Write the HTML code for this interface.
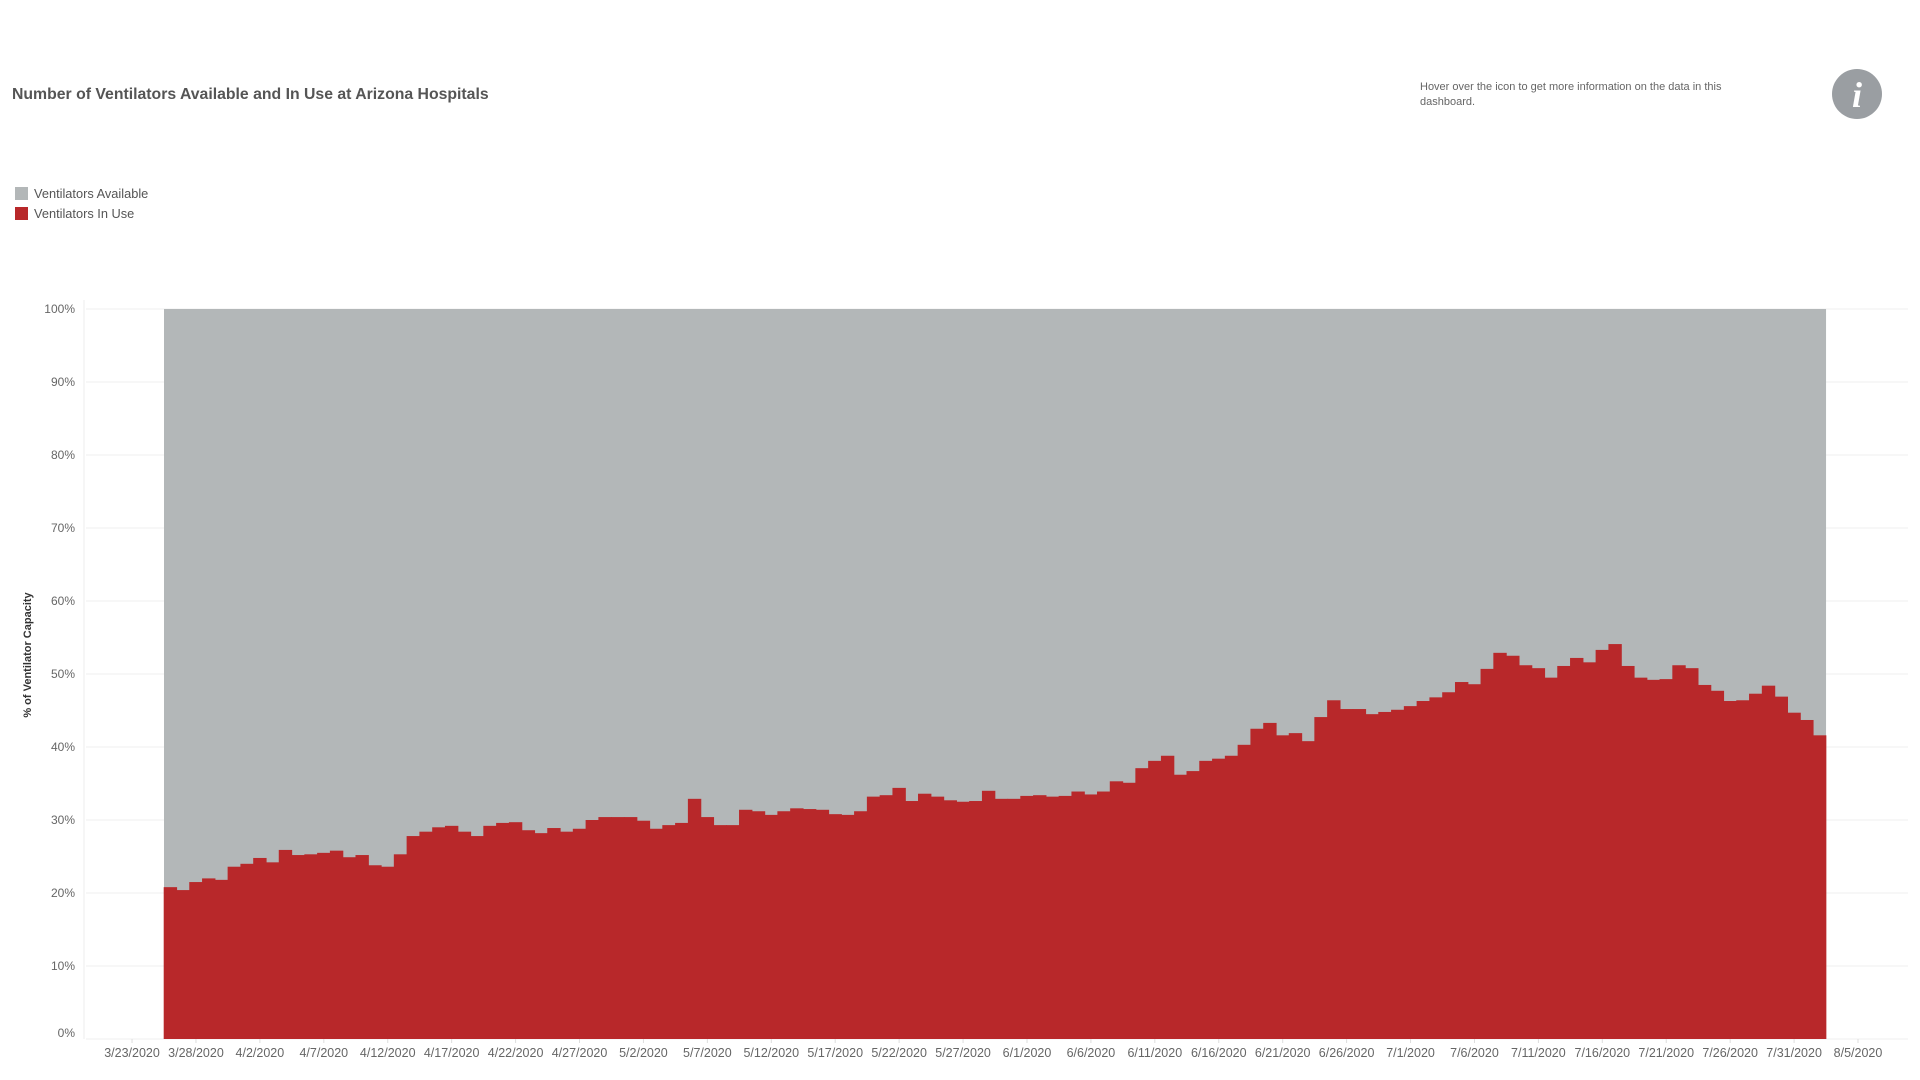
<!DOCTYPE html>
<html><head><meta charset="utf-8"><title>Ventilators</title>
<style>
html,body{margin:0;padding:0;background:#fff;width:1920px;height:1080px;overflow:hidden;font-family:"Liberation Sans",sans-serif;}
svg{display:block}
</style></head>
<body>
<svg id="chart" width="1920" height="1080" viewBox="0 0 1920 1080">
  <text x="12" y="99" font-size="15.8" font-weight="bold" fill="#555">Number of Ventilators Available and In Use at Arizona Hospitals</text>
  <text x="1420" y="90" font-size="11" fill="#666">Hover over the icon to get more information on the data in this</text>
  <text x="1420" y="105" font-size="11" fill="#666">dashboard.</text>
  <g>
    <circle cx="1857" cy="94" r="25" fill="#9a9ea2"/>
    <text x="1857" y="107" font-size="36" font-weight="bold" font-style="italic" font-family="Liberation Serif, serif" fill="#fff" text-anchor="middle">i</text>
  </g>
  <g>
    <rect x="15" y="187" width="13" height="13" fill="#b3b7b8"/>
    <text x="34" y="198" font-size="12.8" fill="#555">Ventilators Available</text>
    <rect x="15" y="207" width="13" height="13" fill="#b8282a"/>
    <text x="34" y="218" font-size="12.8" fill="#555">Ventilators In Use</text>
  </g>
  <line x1="84" y1="300" x2="84" y2="1039" stroke="#eee" stroke-width="1"/>
  <g id="grid"></g>
  <g id="marks"></g>
  <g id="yticks"></g>
  <g id="xticks"></g>
  <text transform="translate(31,655) rotate(-90)" font-size="11" font-weight="bold" fill="#333" text-anchor="middle">% of Ventilator Capacity</text>
</svg>
<script>
const startDate = [2020, 2, 26]; // 3/26/2020 (month index 2)
const inUsePct = [20.8,20.4,21.5,22.0,21.8,23.6,24.0,24.8,24.2,25.9,25.2,25.3,25.5,25.8,24.9,25.2,23.8,23.6,25.3,27.8,28.4,29.0,29.2,28.4,27.8,29.2,29.6,29.7,28.6,28.2,28.9,28.4,28.8,30.0,30.4,
30.4,30.4,29.9,28.8,29.3,29.6,32.9,30.4,29.3,29.3,31.4,31.2,30.7,31.2,31.6,31.5,31.4,30.8,30.7,31.2,33.2,33.4,34.4,32.6,33.6,33.2,32.7,32.5,32.6,34.0,32.9,32.9,33.3,33.4,33.2,
33.3,33.9,33.5,33.9,
35.3,35.1,37.1,38.1,38.8,36.2,36.7,38.1,38.4,38.8,40.3,42.5,43.3,41.6,41.9,40.8,44.1,46.4,45.2,45.2,44.5,44.8,45.1,45.6,46.3,46.8,47.5,48.9,
48.6,50.7,52.9,52.5,51.2,50.8,49.5,51.1,52.2,51.6,53.3,54.1,51.1,49.5,49.2,49.3,51.2,50.8,48.5,47.7,46.3,46.4,47.3,48.4,46.9,44.7,43.7,41.6];
const yTicks = [0,10,20,30,40,50,60,70,80,90,100];
const xTickLabels = ["3/23/2020","3/28/2020","4/2/2020","4/7/2020","4/12/2020","4/17/2020","4/22/2020","4/27/2020","5/2/2020","5/7/2020","5/12/2020","5/17/2020","5/22/2020","5/27/2020","6/1/2020","6/6/2020","6/11/2020","6/16/2020","6/21/2020","6/26/2020","7/1/2020","7/6/2020","7/11/2020","7/16/2020","7/21/2020","7/26/2020","7/31/2020","8/5/2020"];

const NS = "http://www.w3.org/2000/svg";
const X0 = 164, DAY = 12.785, Y0 = 1039, Y100 = 309;
function dayIndex(label){const p=label.split('/');const d=new Date(+p[2],+p[0]-1,+p[1]);const s=new Date(startDate[0],startDate[1],startDate[2]);return Math.round((d-s)/86400000);}
function xPos(i){return X0 + i*DAY;}
function yPos(v){return Y0 - (v/100)*(Y0-Y100);}
function mk(tag, attrs, parent){const e=document.createElementNS(NS,tag);for(const k in attrs)e.setAttribute(k,attrs[k]);parent.appendChild(e);return e;}

const grid=document.getElementById('grid'), yt=document.getElementById('yticks'), xt=document.getElementById('xticks'), marks=document.getElementById('marks');
yTicks.forEach(v=>{
  const l=mk('line',{x1:86,x2:1908,y1:yPos(v),y2:yPos(v),stroke:'#efefef','stroke-width':1},grid);
  
  
  const t=mk('text',{x:75,y:yPos(v)+(v===0?-2:4),'font-size':12,fill:'#666','text-anchor':'end'},yt);
  t.textContent=v+'%';
  
  
});
const n=inUsePct.length;
const avail=mk('rect',{x:xPos(0),y:Y100,width:n*DAY,height:Y0-Y100,fill:'#b3b7b8'},marks);


inUsePct.forEach((v,i)=>{
  const r=mk('rect',{x:xPos(i)-0.3,y:yPos(v),width:DAY+0.6,height:Y0-yPos(v),fill:'#b8282a'},marks);
  
  
});
xTickLabels.forEach(lab=>{
  const i=dayIndex(lab);
  const cx=xPos(i)+DAY/2;
  const tk=mk('line',{x1:cx,x2:cx,y1:1039,y2:1043,stroke:'#ddd'},xt);
  
  
  const t=mk('text',{x:cx,y:1057,'font-size':12.5,fill:'#666','text-anchor':'middle'},xt);
  t.textContent=lab;
  
  
});
</script>
</body></html>
